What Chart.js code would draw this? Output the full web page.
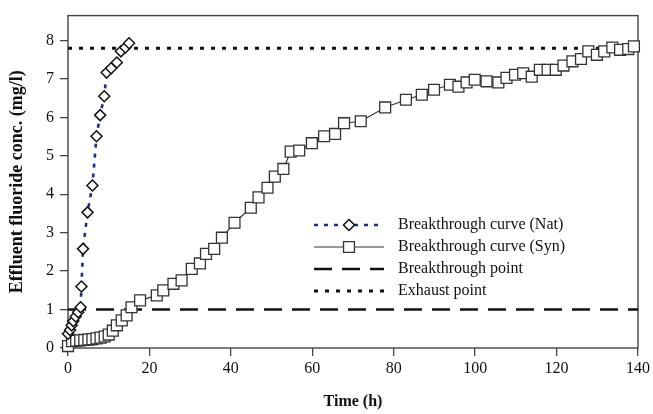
<!DOCTYPE html>
<html><head><meta charset="utf-8">
<script src="https://cdn.jsdelivr.net/npm/chart.js@4.4.0/dist/chart.umd.min.js"></script>
<style>html,body{margin:0;padding:0;background:#fff}#wrap{width:653px;height:414px}</style>
</head><body><div id="wrap"><canvas id="c" width="653" height="414"></canvas></div>
<script>
// ---- data ----
const natTime = [0, 0.5, 0.9, 1.3, 1.9, 2.5, 3.1, 3.3, 3.7, 4.8, 6.0, 7.0, 7.9, 8.9, 9.5, 10.6, 12.0, 13.0, 14.1, 15.0];
const natConc = [0.37, 0.47, 0.59, 0.70, 0.82, 0.93, 1.06, 1.60, 2.58, 3.53, 4.23, 5.51, 6.06, 6.55, 7.17, 7.28, 7.43, 7.72, 7.82, 7.93];
const synTime = [0, 1, 2, 3, 4, 5, 6, 7, 8, 9, 10, 11, 12, 13.2, 14.4, 15.6, 17.7, 21.8, 23.4, 25.9, 27.9, 30.4, 32.4, 33.9, 35.9, 37.8, 40.9, 44.9, 46.8, 49.0, 50.8, 52.9, 54.7, 56.8, 59.9, 62.9, 65.6, 67.8, 71.9, 77.9, 83.0, 86.9, 89.9, 93.8, 95.9, 97.9, 99.9, 102.8, 105.7, 107.7, 109.8, 111.8, 113.9, 115.9, 117.8, 119.8, 121.7, 123.9, 126.0, 127.8, 129.9, 131.7, 133.7, 135.6, 137.6, 139.0];
const synConc = [0.05, 0.18, 0.19, 0.20, 0.21, 0.22, 0.23, 0.25, 0.27, 0.30, 0.35, 0.45, 0.59, 0.72, 0.85, 1.06, 1.24, 1.37, 1.50, 1.67, 1.76, 2.06, 2.20, 2.45, 2.58, 2.87, 3.26, 3.65, 3.92, 4.17, 4.46, 4.66, 5.11, 5.14, 5.33, 5.51, 5.57, 5.85, 5.90, 6.26, 6.46, 6.59, 6.72, 6.85, 6.80, 6.91, 6.98, 6.94, 6.91, 7.03, 7.11, 7.15, 7.06, 7.24, 7.24, 7.24, 7.35, 7.46, 7.52, 7.72, 7.63, 7.72, 7.82, 7.76, 7.78, 7.85];
const breakthroughLevel = 1;
const exhaustLevel = 7.8;
const timeRange = [0, 140];
const concRange = [0, 8.65];
const xTicks = [0, 20, 40, 60, 80, 100, 120, 140];
const yTicks = [0, 1, 2, 3, 4, 5, 6, 7, 8];
const seriesLabels = ['Breakthrough curve (Nat)', 'Breakthrough curve (Syn)', 'Breakthrough point', 'Exhaust point'];
const xTitle = 'Time (h)';
const yTitle = 'Effluent fluoride conc. (mg/l)';

const pts = (xs, ys) => xs.map((x, i) => ({x, y: ys[i]}));
const flat = (level) => timeRange.map(x => ({x, y: level}));

const FONT = "'Liberation Serif', 'Times New Roman', serif";
const NAVY = '#1f2a8f';

const frameAndLegend = {
  id: 'frameAndLegend',
  beforeDatasetsDraw(chart) {
    const {ctx, chartArea: a} = chart;
    ctx.save();
    ctx.strokeStyle = '#444';
    ctx.lineWidth = 1.4;
    ctx.strokeRect(a.left, a.top, a.right - a.left, a.bottom - a.top);
    ctx.restore();
  },
  afterDraw(chart) {
    const {ctx} = chart;
    const rowsY = [225, 247, 269, 291];
    const x0 = 314, x1 = 384, xm = 349, tx = 398;
    ctx.save();
    chart.data.datasets.forEach((ds, i) => {
      const y = rowsY[i];
      ctx.beginPath();
      ctx.setLineDash(ds.borderDash || []);
      ctx.strokeStyle = ds.borderColor;
      ctx.lineWidth = ds.borderWidth;
      ctx.moveTo(x0, y); ctx.lineTo(x1, y);
      ctx.stroke();
      ctx.setLineDash([]);
      if (ds.pointRadius > 0) {
        ctx.fillStyle = '#fff';
        ctx.strokeStyle = ds.pointBorderColor;
        ctx.lineWidth = ds.pointBorderWidth;
        const r = ds.pointRadius;
        ctx.beginPath();
        if (ds.pointStyle === 'rectRot') {
          ctx.moveTo(xm, y - r); ctx.lineTo(xm + r, y); ctx.lineTo(xm, y + r); ctx.lineTo(xm - r, y); ctx.closePath();
        } else {
          const h = r * Math.SQRT1_2;
          ctx.rect(xm - h, y - h, 2 * h, 2 * h);
        }
        ctx.fill(); ctx.stroke();
      }
      ctx.fillStyle = '#111';
      ctx.font = '16px ' + FONT;
      ctx.textBaseline = 'middle';
      ctx.textAlign = 'left';
      ctx.fillText(ds.label, tx, y);
    });
    ctx.restore();
  }
};

new Chart(document.getElementById('c'), {
  type: 'scatter',
  data: {
    datasets: [
      {label: seriesLabels[0], data: pts(natTime, natConc), showLine: true, borderColor: NAVY, borderWidth: 2.6, borderDash: [4, 6],
       pointStyle: 'rectRot', pointRadius: 5.5, pointBackgroundColor: '#fff', pointBorderColor: '#111', pointBorderWidth: 1.5, order: 0, clip: false},
      {label: seriesLabels[1], data: pts(synTime, synConc), showLine: true, borderColor: '#333', borderWidth: 1.2,
       pointStyle: 'rect', pointRadius: 7.7, pointBackgroundColor: '#fff', pointBorderColor: '#333', pointBorderWidth: 1.3, order: 1, clip: false},
      {label: seriesLabels[2], data: flat(breakthroughLevel), showLine: true, borderColor: '#111', borderWidth: 2.5, borderDash: [18, 10],
       pointRadius: 0, order: 2},
      {label: seriesLabels[3], data: flat(exhaustLevel), showLine: true, borderColor: '#111', borderWidth: 3, borderDash: [4, 7],
       pointRadius: 0, order: 3}
    ]
  },
  options: {
    responsive: false, animation: false, devicePixelRatio: 1,
    layout: {padding: {top: 15, right: 15, left: 0, bottom: 0}},
    plugins: {legend: {display: false}, tooltip: {enabled: false}},
    scales: {
      x: {
        type: 'linear', min: timeRange[0], max: timeRange[1],
        afterBuildTicks: s => { s.ticks = xTicks.map(v => ({value: v})); },
        afterFit: s => { s.height = 66; },
        border: {display: false},
        grid: {drawOnChartArea: false, drawTicks: true, tickLength: 8, color: '#444', lineWidth: 1.3},
        ticks: {color: '#111', font: {family: FONT, size: 16}, padding: 3, maxRotation: 0},
        title: {display: true, text: xTitle, color: '#111', font: {family: FONT, size: 16, weight: 'bold'}, padding: {top: 0, bottom: 3}}
      },
      y: {
        type: 'linear', min: concRange[0], max: concRange[1],
        afterBuildTicks: s => { s.ticks = yTicks.map(v => ({value: v})); },
        afterFit: s => { s.width = 68; },
        border: {display: false},
        grid: {drawOnChartArea: false, drawTicks: true, tickLength: 8, color: '#444', lineWidth: 1.3},
        ticks: {color: '#111', font: {family: FONT, size: 16}, padding: 6},
        title: {display: true, text: yTitle, color: '#111', font: {family: FONT, size: 18, weight: 'bold'}, padding: {top: 7, bottom: 0}}
      }
    }
  },
  plugins: [frameAndLegend]
});
</script>
</body></html>
